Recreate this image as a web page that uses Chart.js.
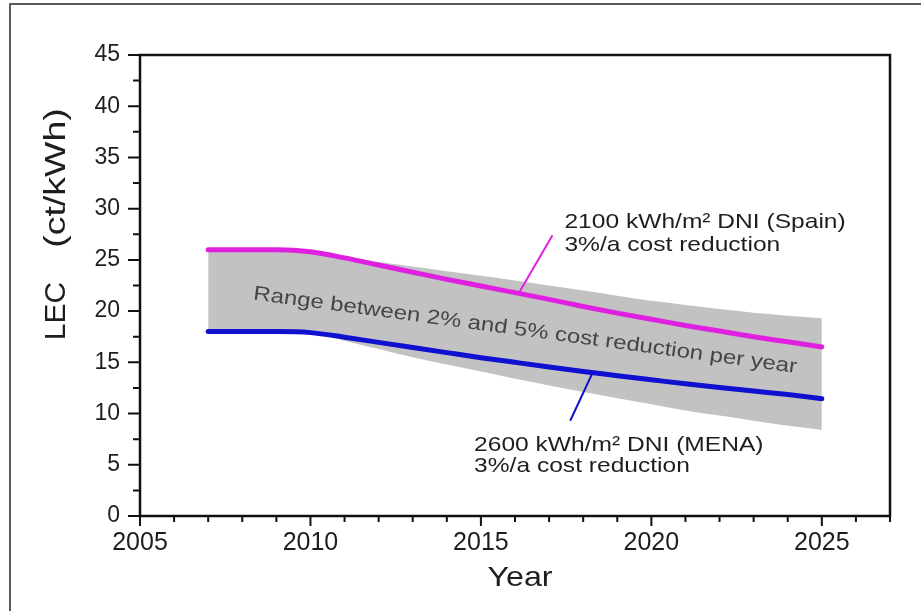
<!DOCTYPE html>
<html>
<head>
<meta charset="utf-8">
<script src="https://cdn.jsdelivr.net/npm/chart.js@4"></script>
<style>
  html, body { margin: 0; padding: 0; background: #fff; }
  #wrap { width: 921px; height: 611px; }
</style>
</head>
<body>
<div id="wrap"><canvas id="lec" width="921" height="611"></canvas></div>
<script>
// Levelised electricity cost of CSP plants, 2007-2025 (ct/kWh)
const years    = [2007, 2008, 2009, 2010, 2011, 2012, 2013, 2014, 2015, 2016, 2017, 2018, 2019, 2020, 2021, 2022, 2023, 2024, 2025];
const spain    = [26.0, 26.0, 26.0, 25.8, 25.2, 24.5, 23.8, 23.1, 22.45, 21.8, 21.15, 20.45, 19.8, 19.2, 18.6, 18.05, 17.5, 17.0, 16.5];
const mena     = [18.0, 18.0, 18.0, 17.9, 17.45, 16.95, 16.45, 15.95, 15.45, 15.0, 14.55, 14.1, 13.7, 13.3, 12.9, 12.55, 12.2, 11.85, 11.45];
const bandHigh = [25.8, 25.8, 25.8, 25.8, 25.3, 24.8, 24.35, 23.9, 23.45, 23.0, 22.5, 22.0, 21.5, 21.0, 20.6, 20.2, 19.85, 19.55, 19.3];
const bandLow  = [18.0, 18.0, 18.0, 18.0, 17.1, 16.3, 15.5, 14.8, 14.1, 13.4, 12.75, 12.1, 11.5, 10.9, 10.3, 9.8, 9.3, 8.8, 8.4];

const yearTicks = ['2005', '2010', '2015', '2020', '2025'];
const lecTicks  = ['0', '5', '10', '15', '20', '25', '30', '35', '40', '45'];

const spainNote = ['2100 kWh/m² DNI (Spain)', '3%/a cost reduction'];
const menaNote  = ['2600 kWh/m² DNI (MENA)', '3%/a cost reduction'];
const rangeNote = 'Range between 2% and 5% cost reduction per year';
const yTitle    = ['LEC', '(ct/kWh)'];
const xTitle    = 'Year';

const pts = vals => years.map((yr, i) => ({ x: yr, y: vals[i] }));
const FONT = '"Liberation Sans", Arial, sans-serif';

// Frame, tick marks, annotations and axis titles drawn on top of the chart
const decor = {
  id: 'decor',
  afterDatasetsDraw(chart) {
    const { ctx, scales: { x, y } } = chart;
    ctx.save();
    // range label inside the grey band
    ctx.translate(x.getPixelForValue(2016.3), y.getPixelForValue(18.1));
    ctx.rotate(7.7 * Math.PI / 180);
    ctx.scale(1.2, 1);
    ctx.font = '20px ' + FONT;
    ctx.fillStyle = '#454545';
    ctx.textAlign = 'center';
    ctx.textBaseline = 'middle';
    ctx.fillText(rangeNote, 0, 0);
    ctx.restore();

    // leader lines
    const leader = (color, x0, y0, x1, y1) => {
      ctx.save();
      ctx.strokeStyle = color;
      ctx.lineWidth = 2;
      ctx.beginPath();
      ctx.moveTo(x.getPixelForValue(x0), y.getPixelForValue(y0));
      ctx.lineTo(x.getPixelForValue(x1), y.getPixelForValue(y1));
      ctx.stroke();
      ctx.restore();
    };
    leader('#e020e0', 2016.1, 21.7, 2017.1, 27.4);
    leader('#1010c8', 2018.25, 13.8, 2017.62, 9.3);

    const note = (lines, xv, yv0, yv1) => {
      ctx.save();
      ctx.font = '21px ' + FONT;
      ctx.fillStyle = '#1e1e1e';
      ctx.textAlign = 'left';
      ctx.textBaseline = 'middle';
      [yv0, yv1].forEach((yv, i) => {
        ctx.save();
        ctx.translate(x.getPixelForValue(xv), y.getPixelForValue(yv));
        ctx.scale(1.17, 1);
        ctx.fillText(lines[i], 0, 0);
        ctx.restore();
      });
      ctx.restore();
    };
    note(spainNote, 2017.45, 28.7, 26.4);
    note(menaNote, 2014.8, 6.9, 4.85);
  },
  afterDraw(chart) {
    const { ctx, chartArea: a, scales: { x, y } } = chart;
    ctx.save();
    // outer border
    ctx.strokeStyle = '#5a5a5a';
    ctx.lineWidth = 2;
    ctx.beginPath();
    ctx.moveTo(10, chart.height);
    ctx.lineTo(10, 4);
    ctx.lineTo(chart.width, 4);
    ctx.stroke();

    // plot frame
    ctx.strokeStyle = '#111';
    ctx.lineWidth = 2.5;
    ctx.strokeRect(a.left, a.top, a.right - a.left, a.bottom - a.top);

    // tick marks, majors longer
    ctx.lineWidth = 2;
    ctx.beginPath();
    for (let v = x.min; v <= x.max; v += 1) {
      const px = x.getPixelForValue(v);
      const len = v % 5 === 0 ? 10 : 6;
      ctx.moveTo(px, a.bottom);
      ctx.lineTo(px, a.bottom + len);
    }
    for (let v = y.min; v <= y.max; v += 2.5) {
      const py = y.getPixelForValue(v);
      const len = v % 5 === 0 ? 12 : 7;
      ctx.moveTo(a.left - len, py);
      ctx.lineTo(a.left, py);
    }
    ctx.stroke();

    // axis titles
    ctx.fillStyle = '#1e1e1e';
    ctx.font = '30px ' + FONT;
    ctx.textAlign = 'center';
    ctx.textBaseline = 'alphabetic';
    ctx.save();
    ctx.translate(65, 311);
    ctx.rotate(-Math.PI / 2);
    ctx.fillText(yTitle[0], 0, 0);
    ctx.restore();
    ctx.save();
    ctx.translate(65, 178);
    ctx.rotate(-Math.PI / 2);
    ctx.scale(1.25, 1);
    ctx.fillText(yTitle[1], 0, 0);
    ctx.restore();

    ctx.save();
    ctx.font = '28px ' + FONT;
    ctx.translate((a.left + a.right) / 2 + 5, 586);
    ctx.scale(1.15, 1);
    ctx.fillText(xTitle, 0, 0);
    ctx.restore();
    ctx.restore();
  }
};

new Chart(document.getElementById('lec'), {
  type: 'line',
  data: {
    datasets: [
      { label: 'Spain', data: pts(spain), borderColor: '#e020e0', borderWidth: 5, borderCapStyle: 'round',
        pointRadius: 0, cubicInterpolationMode: 'monotone', fill: false },
      { label: 'MENA', data: pts(mena), borderColor: '#1010d0', borderWidth: 5, borderCapStyle: 'round',
        pointRadius: 0, cubicInterpolationMode: 'monotone', fill: false },
      { label: 'band high', data: pts(bandHigh), borderWidth: 0, borderColor: 'rgba(0,0,0,0)',
        backgroundColor: '#c2c2c2', pointRadius: 0, cubicInterpolationMode: 'monotone', fill: '+1' },
      { label: 'band low', data: pts(bandLow), borderWidth: 0, borderColor: 'rgba(0,0,0,0)',
        pointRadius: 0, cubicInterpolationMode: 'monotone', fill: false }
    ]
  },
  options: {
    responsive: false,
    animation: false,
    events: [],
    layout: { padding: { left: 0, top: 55, right: 31, bottom: 0 } },
    plugins: { legend: { display: false }, tooltip: { enabled: false } },
    scales: {
      x: {
        type: 'linear', min: 2005, max: 2027,
        grid: { display: false, drawTicks: false },
        border: { display: false },
        afterFit: s => { s.height = 95; },
        afterBuildTicks: s => { s.ticks = yearTicks.map(t => ({ value: Number(t) })); },
        ticks: {
          padding: 12, color: '#1e1e1e', font: { family: FONT, size: 25 },
          callback: v => yearTicks.find(t => Number(t) === v) || ''
        }
      },
      y: {
        type: 'linear', min: 0, max: 45,
        grid: { display: false, drawTicks: false },
        border: { display: false },
        afterFit: s => { s.width = 140; },
        afterBuildTicks: s => { s.ticks = lecTicks.map(t => ({ value: Number(t) })); },
        ticks: {
          padding: 20, color: '#1e1e1e', font: { family: FONT, size: 23 },
          callback: v => lecTicks.find(t => Number(t) === v) || ''
        }
      }
    }
  },
  plugins: [decor]
});
</script>
</body>
</html>
